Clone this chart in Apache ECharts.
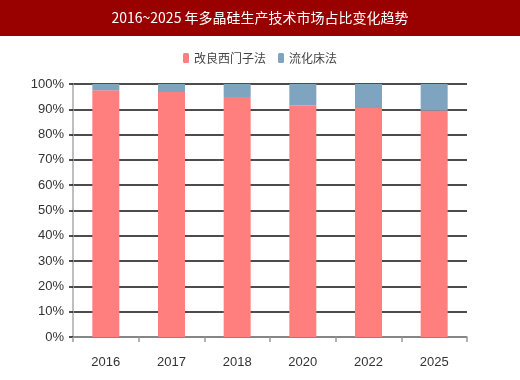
<!DOCTYPE html>
<html><head><meta charset="utf-8">
<script src="https://cdn.jsdelivr.net/npm/echarts@6/dist/echarts.min.js"></script>
<style>html,body{margin:0;padding:0;background:#fff}#c{width:520px;height:380px}</style>
</head><body><div id="c"></div>
<script>
var titleText = '2016~2025 年多晶硅生产技术市场占比变化趋势';
var categories = ['2016', '2017', '2018', '2020', '2022', '2025'];
var seriesNames = ['改良西门子法', '流化床法'];
var siemensValues = [97.5, 96.8, 94.5, 91.5, 90.5, 89.5];
var fluidValues = [2.5, 3.2, 5.5, 8.5, 9.5, 10.5];
var yTicks = [0, 10, 20, 30, 40, 50, 60, 70, 80, 90, 100];

var chart = echarts.init(document.getElementById('c'), null, {renderer: 'canvas'});
chart.setOption({
  animation: false,
  graphic: [
    {type: 'rect', shape: {x: 0, y: 0, width: 520, height: 36}, style: {fill: '#990000'}, z: 0},
    {type: 'text', left: 'center', top: 11, style: {text: titleText, fill: '#ffffff', font: '14px "Noto Sans CJK SC", serif'}, z: 1}
  ],
  legend: {
    top: 47, left: 'center', itemWidth: 6, itemHeight: 10, itemGap: 12,
    textStyle: {color: '#444', fontSize: 12, fontFamily: '"Noto Sans CJK SC", serif'},
    data: seriesNames
  },
  grid: {left: 73, right: 53, top: 84, bottom: 43, containLabel: false},
  xAxis: {
    type: 'category', data: categories,
    axisLine: {lineStyle: {color: '#999', width: 1.5}},
    axisTick: {show: true, length: 5, lineStyle: {color: '#999', width: 1.5}},
    axisLabel: {color: '#333', fontSize: 13, margin: 19, fontFamily: 'Arial, "Liberation Sans", sans-serif'}
  },
  yAxis: {
    type: 'value', min: 0, max: 100, interval: 10,
    axisLine: {show: true, lineStyle: {color: '#aaa', width: 1.5}},
    axisTick: {show: true, length: 4, lineStyle: {color: '#111', width: 1.5}},
    axisLabel: {color: '#333', fontSize: 13, margin: 9, formatter: function (v) { return yTicks.indexOf(v) >= 0 ? v + '%' : ''; }, fontFamily: 'Arial, "Liberation Sans", sans-serif'},
    splitLine: {show: true, lineStyle: {color: '#111', width: 1.5}}
  },
  series: [
    {name: seriesNames[0], type: 'bar', stack: 's', barWidth: 27, data: siemensValues, itemStyle: {color: '#FF7F7F'}},
    {name: seriesNames[1], type: 'bar', stack: 's', barWidth: 27, data: fluidValues, itemStyle: {color: '#7FA4BF'}}
  ]
});
</script></body></html>
